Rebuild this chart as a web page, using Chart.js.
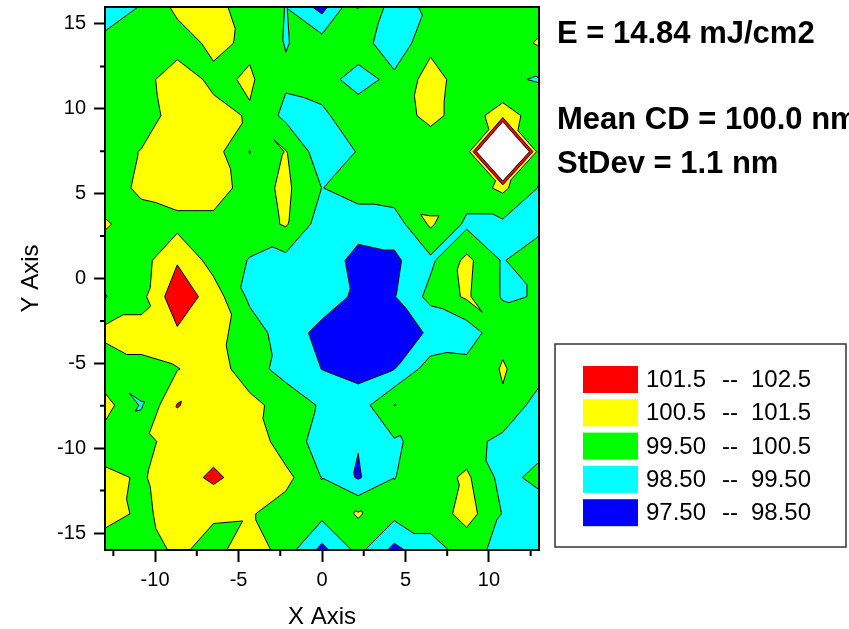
<!DOCTYPE html>
<html>
<head>
<meta charset="utf-8">
<title>CD uniformity map</title>
<script src="https://cdn.jsdelivr.net/npm/chart.js@4.4.1/dist/chart.umd.min.js"></script>
<style>
  html, body { margin: 0; padding: 0; background: #fff; }
  canvas { display: block; }
</style>
</head>
<body>
<canvas id="cdMap" width="849" height="629"></canvas>
<script>
// --- measurement grid ---
// field positions of the measured sites (mm)
const xNodes = [-13, -10.83, -8.67, -6.5, -4.33, -2.17, 0, 2.17, 4.33, 6.5, 8.67, 10.83, 13];
// rows listed from the top of the map (y = 16) down to the bottom (y = -16)
const yNodes = [16, 13.87, 11.73, 9.6, 7.47, 5.33, 3.2, 1.07, -1.07, -3.2, -5.33, -7.47, -9.6, -11.73, -13.87, -16];

// measured CD (nm), one row per entry of yNodes
const cdRows = [
  [99.0, 99.55, 100.75, 100.8, 100.05, 99.48, 98.15, 100.52, 99.1, 99.7, 100.0, 100.0, 100.0],
  [99.75, 100.0, 100.0, 100.75, 100.3, 99.45, 99.95, 100.0, 98.8, 100.25, 100.0, 100.0, 100.6],
  [100.0, 100.1, 101.1, 100.25, 100.64, 99.65, 99.85, 99.15, 99.75, 100.9, 100.0, 99.6, 99.45],
  [100.0, 99.9, 101.0, 100.85, 100.4, 99.25, 99.35, 100.0, 100.0, 100.8, 100.0, 101.0, 100.0],
  [100.0, 100.55, 101.0, 100.9, 99.47, 100.55, 98.9, 99.55, 100.0, 99.8, 99.7, 110.0, 99.8],
  [100.0, 100.7, 101.0, 101.0, 100.05, 100.7, 99.48, 99.9, 100.1, 100.0, 100.0, 100.7, 99.45],
  [100.6, 100.05, 100.2, 100.2, 100.0, 100.6, 99.0, 99.0, 99.0, 100.65, 99.3, 99.3, 99.0],
  [100.0, 100.1, 101.4, 100.1, 99.45, 99.2, 99.2, 98.1, 98.3, 99.3, 100.75, 99.4, 100.52],
  [99.45, 100.2, 102.2, 101.0, 99.3, 99.0, 99.0, 98.3, 98.45, 99.8, 100.65, 99.4, 99.55],
  [100.8, 100.8, 101.35, 100.85, 100.0, 99.0, 98.2, 97.8, 98.1, 98.6, 98.9, 100.3, 100.0],
  [99.7, 100.3, 100.45, 101.1, 99.85, 99.2, 98.48, 98.15, 98.48, 100.0, 99.9, 100.57, 100.0],
  [100.9, 99.4, 101.55, 101.0, 100.85, 100.0, 99.4, 99.0, 100.52, 100.0, 99.9, 100.4, 99.0],
  [100.0, 100.2, 100.9, 101.0, 101.3, 99.9, 99.2, 98.55, 99.4, 99.8, 99.9, 99.2, 99.1],
  [100.72, 100.4, 101.0, 101.7, 101.0, 100.8, 99.48, 98.4, 99.48, 100.0, 100.68, 99.15, 99.8],
  [100.83, 100.35, 100.8, 100.65, 100.6, 100.0, 99.8, 100.6, 99.8, 99.8, 100.95, 99.45, 98.9],
  [100.0, 99.9, 100.72, 100.09, 101.2, 100.0, 98.2, 99.8, 98.2, 99.25, 99.75, 99.3, 99.0]
];

// contour levels and the fill used between consecutive levels
const levels = [97.5, 98.5, 99.5, 100.5, 101.5, 102.5];
const bandColors = ['#0000ff', '#00ffff', '#00ff00', '#ffff00', '#ff0000'];

// axis ticks
const xTicks = [-10, -5, 0, 5, 10];
const xMinorTicks = [-12.5, -7.5, -2.5, 2.5, 7.5, 12.5];
const yTicks = [-15, -10, -5, 0, 5, 10, 15];
const yMinorTicks = [-12.5, -7.5, -2.5, 2.5, 7.5, 12.5];

const infoLines = ['E = 14.84 mJ/cm2', 'Mean CD = 100.0 nm', 'StDev = 1.1 nm'];

const FONT = "'Liberation Sans', Arial, Helvetica, sans-serif";

// --- helpers ---
const sites = [];
yNodes.forEach((yv, r) => xNodes.forEach((xv, c) => sites.push({ x: xv, y: yv, z: cdRows[r][c] })));

function site(r, c) {
    return { x: xNodes[c], y: yNodes[r], z: cdRows[r][c] };
}

// split each grid cell in two along the diagonal whose ends differ least
function buildTriangles() {
    const tris = [];
    for (let r = 0; r < yNodes.length - 1; r++) {
        for (let c = 0; c < xNodes.length - 1; c++) {
            const a = site(r, c), b = site(r, c + 1);
            const d = site(r + 1, c), e = site(r + 1, c + 1);
            if (Math.abs(a.z - e.z) <= Math.abs(b.z - d.z)) {
                tris.push([a, b, e], [a, e, d]);
            } else {
                tris.push([a, b, d], [b, e, d]);
            }
        }
    }
    return tris;
}

// keep the part of a polygon with z >= lvl (sign 1) or z <= lvl (sign -1)
function clipPoly(poly, lvl, sign) {
    const out = [];
    for (let k = 0; k < poly.length; k++) {
        const a = poly[k], b = poly[(k + 1) % poly.length];
        const ina = sign * (a.z - lvl) >= 0;
        const inb = sign * (b.z - lvl) >= 0;
        if (ina) out.push(a);
        if (ina !== inb) {
            const t = (lvl - a.z) / (b.z - a.z);
            out.push({ x: a.x + t * (b.x - a.x), y: a.y + t * (b.y - a.y), z: lvl });
        }
    }
    return out;
}

function signedArea(pts) {
    let s = 0;
    for (let k = 0; k < pts.length; k++) {
        const p = pts[k], q = pts[(k + 1) % pts.length];
        s += p[0] * q[1] - q[0] * p[1];
    }
    return s / 2;
}

function fmtLevel(v) {
    return v >= 100 ? v.toFixed(1) : v.toFixed(2);
}

// --- contour drawing ---
const contourPlugin = {
    id: 'contourMap',
    beforeDatasetsDraw(chart) {
        const { ctx, chartArea: area, scales: { x, y } } = chart;
        const tris = buildTriangles();
        const px = p => [x.getPixelForValue(p.x), y.getPixelForValue(p.y)];

        ctx.save();
        ctx.beginPath();
        ctx.rect(area.left, area.top, area.right - area.left, area.bottom - area.top);
        ctx.clip();

        // filled bands
        bandColors.forEach((color, k) => {
            ctx.beginPath();
            tris.forEach(tri => {
                let poly = clipPoly(tri, levels[k], 1);
                if (poly.length < 3) return;
                poly = clipPoly(poly, levels[k + 1], -1);
                if (poly.length < 3) return;
                const pts = poly.map(px);
                if (signedArea(pts) < 0) pts.reverse();
                ctx.moveTo(pts[0][0], pts[0][1]);
                for (let m = 1; m < pts.length; m++) ctx.lineTo(pts[m][0], pts[m][1]);
                ctx.closePath();
            });
            ctx.fillStyle = color;
            ctx.fill();
        });

        // iso lines
        ctx.beginPath();
        levels.forEach(lv => {
            tris.forEach(tri => {
                const cut = [];
                for (let k = 0; k < 3; k++) {
                    const a = tri[k], b = tri[(k + 1) % 3];
                    if ((a.z >= lv) !== (b.z >= lv)) {
                        const t = (lv - a.z) / (b.z - a.z);
                        cut.push(px({ x: a.x + t * (b.x - a.x), y: a.y + t * (b.y - a.y) }));
                    }
                }
                if (cut.length === 2) {
                    ctx.moveTo(cut[0][0], cut[0][1]);
                    ctx.lineTo(cut[1][0], cut[1][1]);
                }
            });
        });
        ctx.strokeStyle = '#000';
        ctx.lineWidth = 1;
        ctx.stroke();
        ctx.restore();
    },

    afterDraw(chart) {
        const { ctx, chartArea: area, scales: { x, y } } = chart;
        ctx.save();

        // frame around the map
        ctx.strokeStyle = '#000';
        ctx.lineWidth = 2;
        ctx.strokeRect(area.left, area.top, area.right - area.left, area.bottom - area.top);

        // minor ticks
        ctx.beginPath();
        xMinorTicks.forEach(v => {
            const p = x.getPixelForValue(v);
            ctx.moveTo(p, area.bottom);
            ctx.lineTo(p, area.bottom + 6);
        });
        yMinorTicks.forEach(v => {
            const p = y.getPixelForValue(v);
            ctx.moveTo(area.left, p);
            ctx.lineTo(area.left - 5, p);
        });
        ctx.stroke();

        // exposure / statistics text
        const tx = area.right + 18;
        ctx.fillStyle = '#000';
        ctx.font = 'bold 31px ' + FONT;
        ctx.textAlign = 'left';
        ctx.textBaseline = 'alphabetic';
        ctx.fillText(infoLines[0], tx, 43);
        ctx.fillText(infoLines[1], tx, 129);
        ctx.fillText(infoLines[2], tx, 173);

        // legend box
        const lx = area.right + 16, ly = 344, lw = 291, lh = 203;
        ctx.lineWidth = 1.5;
        ctx.strokeStyle = '#333';
        ctx.strokeRect(lx, ly, lw, lh);

        ctx.font = '24px ' + FONT;
        ctx.textBaseline = 'middle';
        for (let n = 0; n < bandColors.length; n++) {
            const k = bandColors.length - 1 - n;
            const top = ly + 22 + n * 33.3;
            ctx.fillStyle = bandColors[k];
            ctx.fillRect(lx + 28, top, 55, 27);
            ctx.fillStyle = '#000';
            const cy = top + 14.5;
            ctx.fillText(fmtLevel(levels[k]), lx + 91, cy);
            ctx.fillText('--', lx + 167, cy);
            ctx.fillText(fmtLevel(levels[k + 1]), lx + 196, cy);
        }
        ctx.restore();
    }
};

new Chart(document.getElementById('cdMap').getContext('2d'), {
    type: 'scatter',
    data: {
        datasets: [{
            label: 'CD',
            data: sites,
            pointRadius: 0,
            showLine: false
        }]
    },
    options: {
        responsive: false,
        animation: false,
        events: [],
        layout: { padding: { top: 7, right: 310, left: 0, bottom: 0 } },
        plugins: {
            legend: { display: false },
            tooltip: { enabled: false }
        },
        scales: {
            x: {
                type: 'linear',
                min: -13,
                max: 13,
                afterBuildTicks: scale => { scale.ticks = xTicks.map(v => ({ value: v })); },
                afterFit: scale => { scale.height = 79; scale.paddingLeft = 0; scale.paddingRight = 0; },
                grid: { drawOnChartArea: false, drawTicks: true, tickLength: 12, tickWidth: 2, tickColor: '#000' },
                border: { display: true, color: '#000', width: 2 },
                ticks: { color: '#000', padding: 6, font: { family: FONT, size: 20 } },
                title: { display: true, text: 'X Axis', color: '#000', padding: { top: 0, bottom: 0 }, font: { family: FONT, size: 24, lineHeight: 0.95 } }
            },
            y: {
                type: 'linear',
                min: -16,
                max: 16,
                afterBuildTicks: scale => { scale.ticks = yTicks.map(v => ({ value: v })); },
                afterFit: scale => { scale.width = 105; scale.paddingTop = 0; scale.paddingBottom = 0; },
                grid: { drawOnChartArea: false, drawTicks: true, tickLength: 11, tickWidth: 2, tickColor: '#000' },
                border: { display: true, color: '#000', width: 2 },
                ticks: { color: '#000', padding: 8, font: { family: FONT, size: 20 } },
                title: { display: true, text: 'Y Axis', color: '#000', padding: { top: 17, bottom: 0 }, font: { family: FONT, size: 24 } }
            }
        }
    },
    plugins: [contourPlugin]
});
</script>
</body>
</html>
